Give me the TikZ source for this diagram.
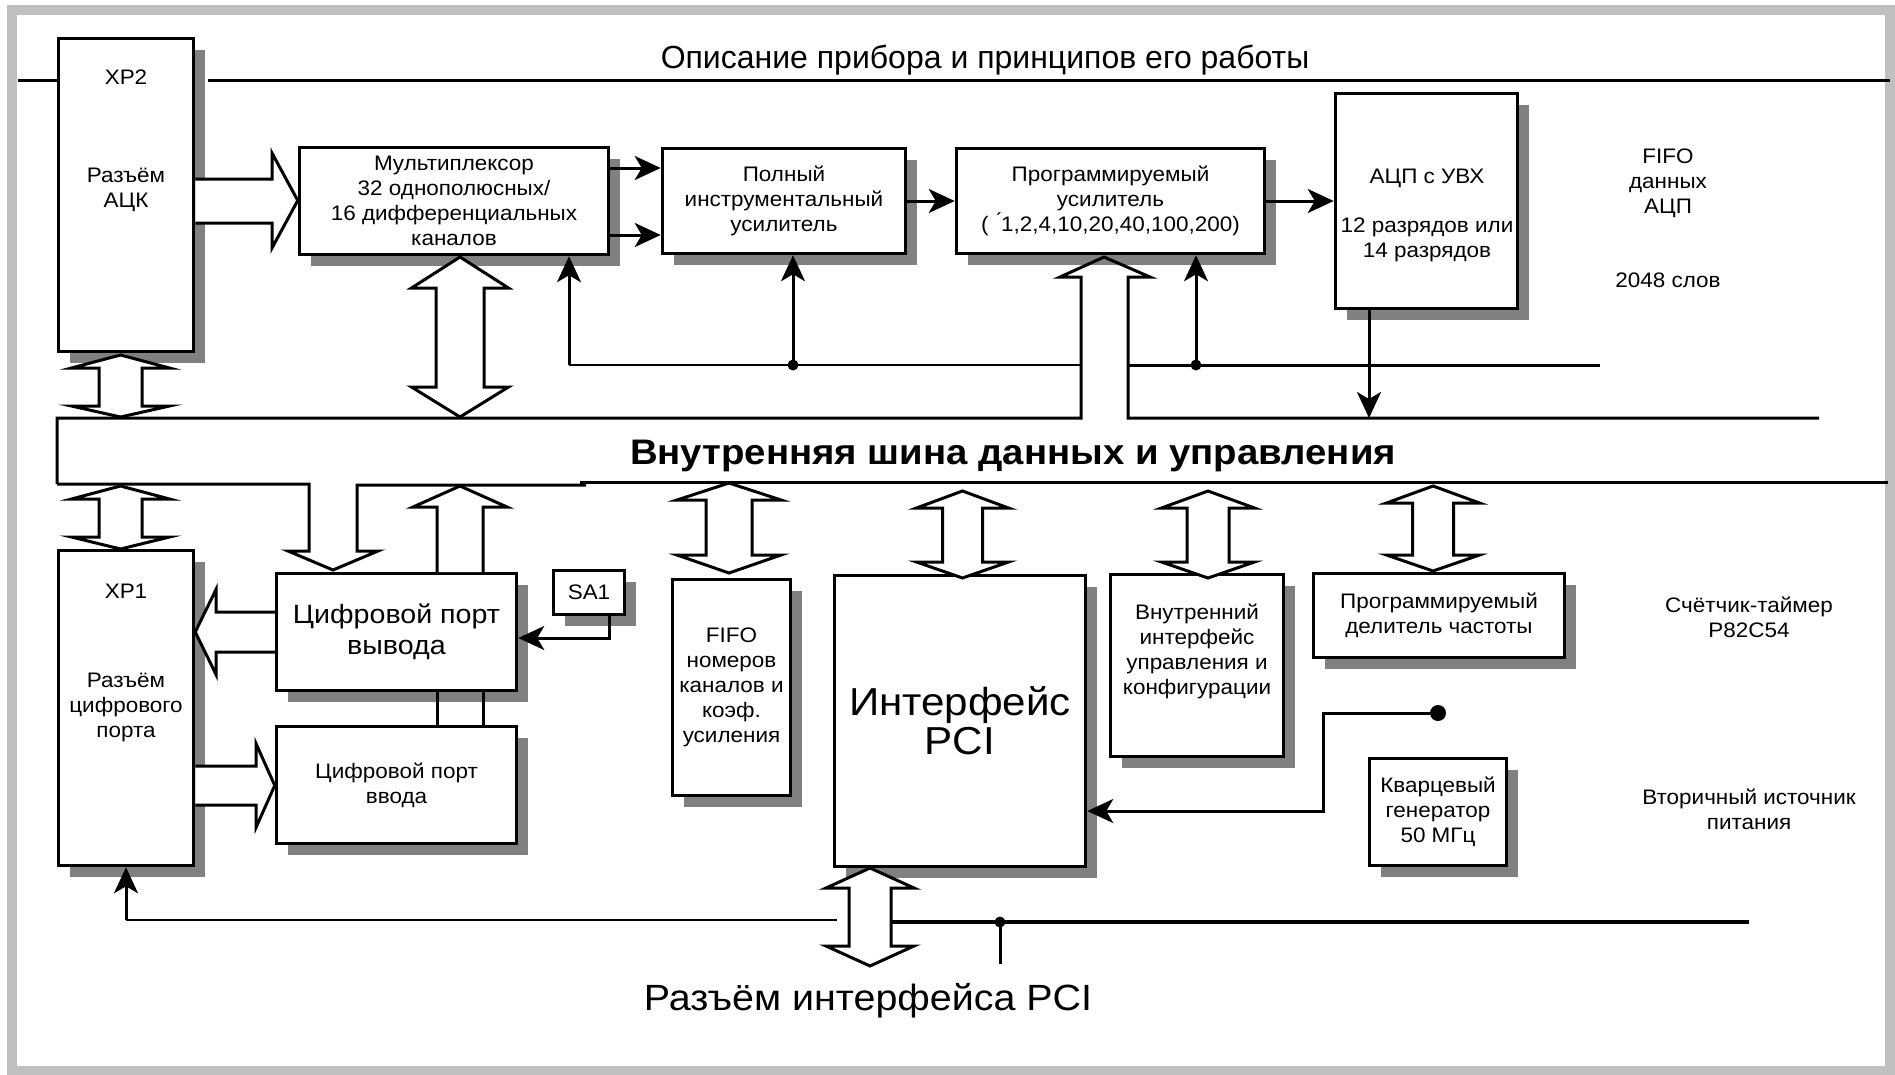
\documentclass[tikz,border=0pt]{standalone}
\usepackage{fontspec}
\setmainfont{Liberation Sans}
\newfontfamily\sfA{Liberation Sans}[FakeStretch=1.07]
\newfontfamily\sfB{Liberation Sans}[FakeStretch=1.08]
\usetikzlibrary{arrows.meta,shadows,calc}
\definecolor{shd}{RGB}{128,128,128}
\definecolor{frm}{RGB}{192,192,192}
\newcommand\dblarrowv[7]{% cx, ytop, ybot, headhalf, shafthalf, toplen, botlen
 \filldraw[hollow] (#1,#2) -- ({#1+#4},{#2+#6}) -- ({#1+#5},{#2+#6}) -- ({#1+#5},{#3-#7}) -- ({#1+#4},{#3-#7}) -- (#1,#3) -- ({#1-#4},{#3-#7}) -- ({#1-#5},{#3-#7}) -- ({#1-#5},{#2+#6}) -- ({#1-#4},{#2+#6}) -- cycle;}
\tikzset{
 sm/.style={font=\sfA\fontsize{21}{25}\selectfont},
 blk/.style={draw=black, line width=3.5pt, fill=white, align=center, inner sep=0pt, sm,
   general shadow={fill=shd, shadow xshift=11pt, shadow yshift=-11pt}},
 txt/.style={sm, align=center, inner sep=0pt},
 conn/.style={line width=3pt, -{Stealth[length=26pt,width=24pt,inset=7pt]}},
 ln/.style={line width=3pt},
 thinln/.style={line width=2.2pt},
 hollow/.style={draw=black, line width=3pt, fill=white, line join=miter},
 dot/.style={circle, fill=black, inner sep=0pt, minimum size=11pt},
}
\begin{document}
\begin{tikzpicture}[x=1pt,y=-1pt]
\useasboundingbox (0,0) rectangle (1895,1074);
\fill[white] (0,0) rectangle (1895,1074);
\draw[frm, line width=10pt] (12,10) rectangle (1890,1071);

% title
\node[txt, font=\fontsize{32}{38}\selectfont] (title) at (985,60) {Описание прибора и принципов его работы};
\draw[ln] (18,80) -- (57,80);
\draw[ln] (208,80) -- (1890,80);

% boxes
\node[blk, minimum width=135pt, minimum height=313pt] (xp2) at (126,195) {};
\node[txt] (xp2a) at (126,77) {XP2};
\node[txt] (xp2b) at (126,190) {Разъём\\АЦК};
\node[blk, minimum width=309pt, minimum height=107pt] (mux) at (454,201) {Мультиплексор\\32 однополюсных/\\16 дифференциальных\\каналов};
\node[blk, minimum width=243pt, minimum height=105pt] (poln) at (784,201) {Полный\\инструментальный\\усилитель};
\node[blk, minimum width=308pt, minimum height=105pt] (prog) at (1110.5,201) {Программируемый\\усилитель\\( \'{}1,2,4,10,20,40,100,200)};
\node[blk, minimum width=182pt, minimum height=215pt] (adc) at (1426.5,201) {};
\node[txt] (adca) at (1427,178) {АЦП с УВХ};
\node[txt] (adcb) at (1427,240) {12 разрядов или\\14 разрядов};

\node[txt] (fifoadc) at (1668,183) {FIFO\\данных\\АЦП};
\node[txt] (words) at (1668,280) {2048 слов};

\node[blk, minimum width=135pt, minimum height=315pt] (xp1) at (126,708) {};
\node[txt] (xp1a) at (126,591) {XP1};
\node[txt] (xp1b) at (126,707) {Разъём\\цифрового\\порта};
\node[blk, minimum width=240pt, minimum height=117pt, font=\sfB\fontsize{26.5}{31}\selectfont] (outp) at (396.5,632) {Цифровой порт\\вывода};
\node[blk, minimum width=240pt, minimum height=117pt] (inp) at (396.5,785) {Цифровой порт\\ввода};
\node[blk, minimum width=71pt, minimum height=44pt] (sa) at (589,592.5) {SA1};
\node[blk, minimum width=118pt, minimum height=216pt] (fifo) at (731.5,687.5) {FIFO\\номеров\\каналов и\\коэф.\\усиления};
\node[blk, minimum width=251pt, minimum height=291pt, font=\sfB\fontsize{39}{39}\selectfont] (pci) at (960,721) {Интерфейс\\PCI};
\node[blk, minimum width=173pt, minimum height=182pt] (cfg) at (1197,665.5) {};
\node[txt] (cfga) at (1197,651) {Внутренний\\интерфейс\\управления и\\конфигурации};
\node[blk, minimum width=251pt, minimum height=84pt] (div) at (1439,615.5) {Программируемый\\делитель частоты};
\node[blk, minimum width=137pt, minimum height=107pt] (xtal) at (1438,812) {Кварцевый\\генератор\\50 МГц};

\node[txt] (timer) at (1749,617) {Счётчик-таймер\\P82C54};
\node[txt] (psu) at (1749,809) {Вторичный источник\\питания};

% bus
\node[txt, font=\sfB\bfseries\fontsize{35.5}{40}\selectfont] (bus) at (1013,456) {Внутренняя шина данных и управления};
\draw[ln] (57,484) -- (57,418) -- (1081,418) -- (1081,277) -- (1060,277) -- (1104,257) -- (1150,277) -- (1128,277) -- (1128,418) -- (1819,418);
\draw[ln] (57,484) -- (309,484) -- (309,551) -- (288,551) -- (333,570) -- (378,551) -- (357,551) -- (357,485) -- (586,485);
\draw[ln] (580,482) -- (1888,482);

% hollow arrows
\filldraw[hollow] (xp2.east |- 0,179) -- (272,179) -- (272,153) -- (mux.west |- 0,200.5) -- (272,248) -- (272,223) -- (xp2.east |- 0,223);
\filldraw[hollow] (outp.west |- 0,612) -- (216,612) -- (216,589.5) -- (xp1.east |- 0,632) -- (216,674.5) -- (216,652) -- (outp.west |- 0,652);
\filldraw[hollow] (xp1.east |- 0,766) -- (256,766) -- (256,743.5) -- (inp.west |- 0,785.5) -- (256,827.5) -- (256,805) -- (xp1.east |- 0,805);
\filldraw[hollow] (437,572) -- (437,507) -- (413,507) -- (460,486) -- (507,507) -- (483,507) -- (483,572);
\draw[ln] (437,692) -- (437,725);
\draw[ln] (483,692) -- (483,725);

\dblarrowv{120.5}{355}{417}{49}{21.5}{13}{11}
\dblarrowv{460}{257}{417}{48.5}{24}{31}{30}
\dblarrowv{120.5}{486}{549}{49}{21.5}{13}{12}
\dblarrowv{729}{483}{573}{52}{23}{17}{18}
\dblarrowv{962.5}{491}{578}{46}{20}{17}{16}
\dblarrowv{1208}{491}{578}{46.5}{21}{17}{16}
\dblarrowv{1433}{486}{571}{46.5}{20.5}{17}{16}
\dblarrowv{870}{868}{966}{44}{21}{20}{20}

% line connectors
\draw[conn] (mux.east |- 0,168) -- (poln.west |- 0,168);
\draw[conn] (mux.east |- 0,235) -- (poln.west |- 0,235);
\draw[conn] (poln.east) -- (prog.west);
\draw[conn] (prog.east) -- (adc.west);
\draw[conn] (adc.south -| 1369,0) -- (1369,418);
\draw[thinln] (1081,365) -- (569,365);
\draw[conn] (569,365) -- (mux.south -| 569,0);
\node[dot] (d1) at (793,365) {};
\draw[conn] (d1.center) -- (poln.south -| 793,0);
\draw[ln] (1128,365) -- (1600,365);
\node[dot] (d2) at (1196,365) {};
\draw[conn] (d2.center) -- (prog.south -| 1196,0);
\draw[conn] (sa.south -| 609,0) -- (609,638) -- (outp.east |- 0,638);
\node[dot, minimum size=16pt] (d3) at (1438,713) {};
\draw[conn] (d3.center) -- (1323,713) -- (1323,811) -- (pci.east |- 0,811);
\draw[thinln] (837,920) -- (126,920);
\draw[conn] (126,920) -- (xp1.south);
\draw[ln, line width=3.5pt] (891,922) -- (1749,922);
\node[dot] (d4) at (1000,922) {};
\draw[ln] (d4.center) -- (1000,964);

\node[txt, font=\sfB\fontsize{36.5}{40}\selectfont] (pcicon) at (868,1001) {Разъём интерфейса PCI};
\end{tikzpicture}
\end{document}
